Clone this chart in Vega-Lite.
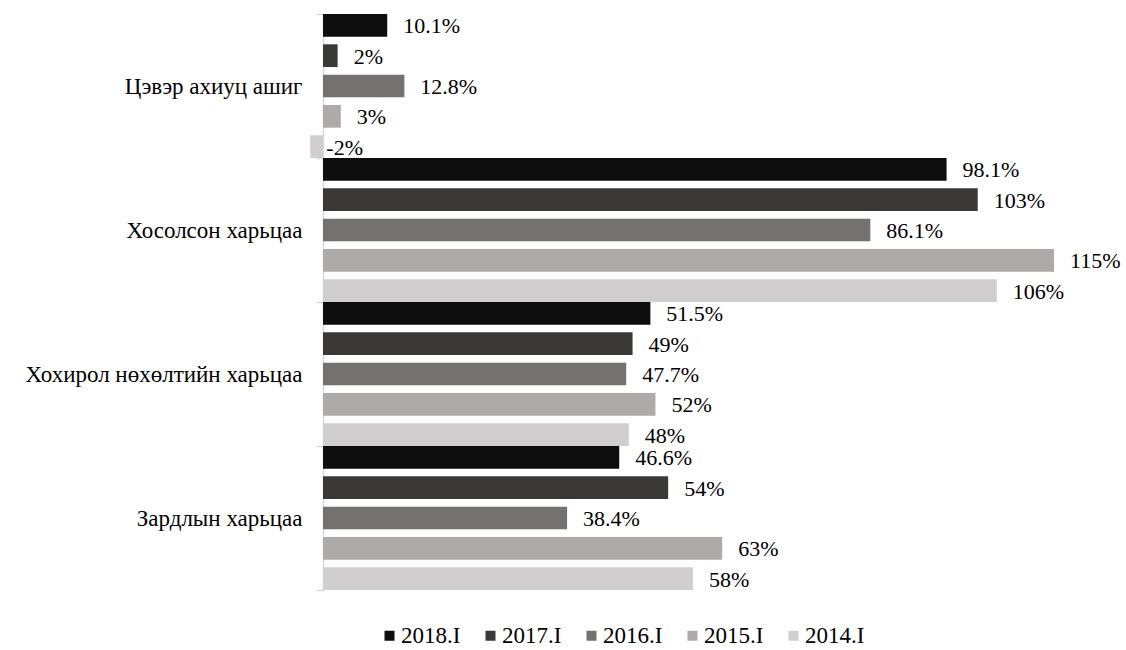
{
  "$schema": "https://vega.github.io/schema/vega-lite/v6.json",
  "width": 743.7,
  "height": 576,
  "autosize": {"type": "none"},
  "padding": {"left": 310.3, "top": 14, "right": 72, "bottom": 60},
  "background": "white",
  "config": {"view": {"stroke": null}, "font": "Liberation Serif"},
  "data": {
    "values": [
      {"category": "Цэвэр ахиуц ашиг", "series": "2018.I", "value": 10.1, "label": "10.1%"},
      {"category": "Цэвэр ахиуц ашиг", "series": "2017.I", "value": 2.3, "label": "2%"},
      {"category": "Цэвэр ахиуц ашиг", "series": "2016.I", "value": 12.8, "label": "12.8%"},
      {"category": "Цэвэр ахиуц ашиг", "series": "2015.I", "value": 2.8, "label": "3%"},
      {"category": "Цэвэр ахиуц ашиг", "series": "2014.I", "value": -2, "label": "-2%"},
      {"category": "Хосолсон харьцаа", "series": "2018.I", "value": 98.1, "label": "98.1%"},
      {"category": "Хосолсон харьцаа", "series": "2017.I", "value": 103, "label": "103%"},
      {"category": "Хосолсон харьцаа", "series": "2016.I", "value": 86.1, "label": "86.1%"},
      {"category": "Хосолсон харьцаа", "series": "2015.I", "value": 115, "label": "115%"},
      {"category": "Хосолсон харьцаа", "series": "2014.I", "value": 106, "label": "106%"},
      {"category": "Хохирол нөхөлтийн харьцаа", "series": "2018.I", "value": 51.5, "label": "51.5%"},
      {"category": "Хохирол нөхөлтийн харьцаа", "series": "2017.I", "value": 48.7, "label": "49%"},
      {"category": "Хохирол нөхөлтийн харьцаа", "series": "2016.I", "value": 47.7, "label": "47.7%"},
      {"category": "Хохирол нөхөлтийн харьцаа", "series": "2015.I", "value": 52.3, "label": "52%"},
      {"category": "Хохирол нөхөлтийн харьцаа", "series": "2014.I", "value": 48.1, "label": "48%"},
      {"category": "Зардлын харьцаа", "series": "2018.I", "value": 46.6, "label": "46.6%"},
      {"category": "Зардлын харьцаа", "series": "2017.I", "value": 54.3, "label": "54%"},
      {"category": "Зардлын харьцаа", "series": "2016.I", "value": 38.4, "label": "38.4%"},
      {"category": "Зардлын харьцаа", "series": "2015.I", "value": 62.8, "label": "63%"},
      {"category": "Зардлын харьцаа", "series": "2014.I", "value": 58.2, "label": "58%"}
    ]
  },
  "encoding": {
    "y": {
      "field": "category",
      "type": "nominal",
      "sort": ["Цэвэр ахиуц ашиг", "Хосолсон харьцаа", "Хохирол нөхөлтийн харьцаа", "Зардлын харьцаа"],
      "scale": {"paddingInner": 0, "paddingOuter": 0},
      "axis": {
        "title": null,
        "offset": -12.71,
        "domainColor": "#d9d9d9",
        "domainWidth": 1.5,
        "tickColor": "#d9d9d9",
        "tickWidth": 1.5,
        "tickSize": 7,
        "tickBand": "extent",
        "labelPadding": 14,
        "labelFontSize": 23,
        "labelFont": "Liberation Serif",
        "labelColor": "black",
        "labelLimit": 400
      }
    },
    "yOffset": {
      "field": "series",
      "sort": ["2018.I", "2017.I", "2016.I", "2015.I", "2014.I"],
      "scale": {"paddingInner": 0.25, "paddingOuter": 0}
    },
    "x": {
      "field": "value",
      "type": "quantitative",
      "scale": {"domain": [-2, 115], "nice": false, "zero": false},
      "axis": null
    }
  },
  "layer": [
    {
      "mark": {"type": "bar"},
      "encoding": {
        "color": {
          "field": "series",
          "type": "nominal",
          "scale": {
            "domain": ["2018.I", "2017.I", "2016.I", "2015.I", "2014.I"],
            "range": ["#0d0d0d", "#3b3838", "#767171", "#aeaaaa", "#d0cece"]
          },
          "legend": {
            "orient": "none",
            "legendX": 67.7,
            "legendY": 610,
            "direction": "horizontal",
            "title": null,
            "symbolType": "square",
            "symbolSize": 100,
            "symbolStrokeWidth": 0,
            "labelFontSize": 23,
            "labelFont": "Liberation Serif",
            "labelColor": "black",
            "labelOffset": 0,
            "columnPadding": 18
          }
        }
      }
    },
    {
      "mark": {"type": "text", "align": "left", "baseline": "middle", "dx": 16, "dy": 1, "fontSize": 22, "font": "Liberation Serif", "color": "black"},
      "encoding": {"text": {"field": "label", "type": "nominal"}}
    }
  ]
}
